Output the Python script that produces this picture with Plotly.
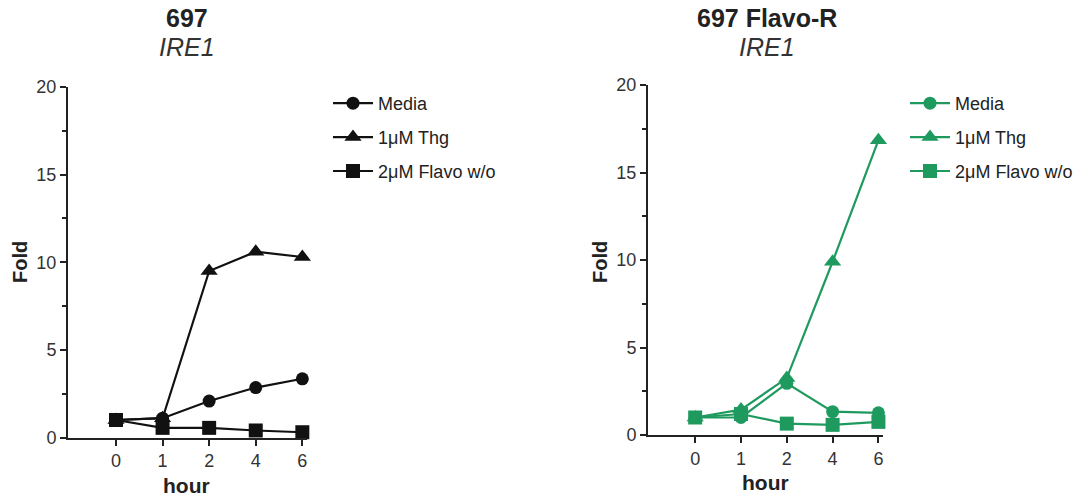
import plotly.graph_objects as go

hours = ["0", "1", "2", "4", "6"]
series_names = ["Media", "1\u03bcM Thg", "2\u03bcM Flavo w/o"]

# Left panel: 697
left_media = [1.0, 1.1, 2.08, 2.85, 3.35]
left_thg = [1.0, 1.1, 9.5, 10.6, 10.3]
left_flavo = [1.0, 0.55, 0.55, 0.4, 0.3]

# Right panel: 697 Flavo-R
right_media = [1.0, 1.0, 2.95, 1.33, 1.27]
right_thg = [1.0, 1.45, 3.25, 9.9, 16.85]
right_flavo = [1.0, 1.2, 0.65, 0.58, 0.75]

BLACK = "#111111"
GREEN = "#1f9a5f"
FONT = "Liberation Sans, Arial, sans-serif"
W, H = 1088, 499
OFF = 8  # page body margin offset

symbols = ["circle", "triangle-up", "square"]
sizes = [13, 15, 14]

fig = go.Figure()
xi = list(range(len(hours)))

def add_panel(vals, color, xa, ya, legend):
    for name, v, sym, sz in zip(series_names, vals, symbols, sizes):
        fig.add_trace(go.Scatter(
            x=xi, y=v, mode="lines+markers", name=name,
            line=dict(color=color, width=2.2),
            marker=dict(symbol=sym, size=sz, color=color),
            xaxis=xa, yaxis=ya, legend=legend, legendgroup=legend + name,
            cliponaxis=False,
        ))

add_panel([left_media, left_thg, left_flavo], BLACK, "x", "y", "legend")
add_panel([right_media, right_thg, right_flavo], GREEN, "x2", "y2", "legend2")

def px_x(p):
    return (p - OFF) / W

def px_y(p):
    return 1 - (p - OFF) / H

xaxis_common = dict(
    range=[-1.03, 4.1], tickmode="array", tickvals=xi, ticktext=hours,
    showline=True, linecolor="#222", linewidth=2, ticks="outside",
    ticklen=6, tickwidth=1.5, tickcolor="#222", showgrid=False, zeroline=False,
    tickfont=dict(family=FONT, size=18, color="#333"), fixedrange=True,
    automargin=False,
)
yaxis_common = dict(
    range=[0, 20], tickmode="array", tickvals=[0, 5, 10, 15, 20],
    showline=True, linecolor="#222", linewidth=2, ticks="outside",
    ticklen=6, tickwidth=1.5, tickcolor="#222", showgrid=False, zeroline=False,
    tickfont=dict(family=FONT, size=18, color="#333"),
    minor=dict(tickvals=[2.5, 7.5, 12.5, 17.5], ticks="outside", ticklen=4,
               tickwidth=1.5, tickcolor="#222", showgrid=False),
    fixedrange=True, automargin=False,
)

fig.update_layout(
    template="none",
    width=W, height=H, margin=dict(l=0, r=0, t=0, b=0, pad=0),
    plot_bgcolor="white", paper_bgcolor="white",
    xaxis=dict(domain=[px_x(68), px_x(307)], anchor="y", **xaxis_common),
    yaxis=dict(domain=[px_y(437.5), px_y(87)], anchor="x", **yaxis_common),
    xaxis2=dict(domain=[px_x(648), px_x(883)], anchor="y2", **xaxis_common),
    yaxis2=dict(domain=[px_y(435), px_y(85)], anchor="x2", **yaxis_common),
    legend=dict(x=px_x(328), y=px_y(85), xanchor="left", yanchor="top",
                font=dict(family=FONT, size=18, color="#222"),
                tracegroupgap=7.5, itemwidth=40, bgcolor="rgba(0,0,0,0)"),
    legend2=dict(x=px_x(905), y=px_y(85), xanchor="left", yanchor="top",
                 font=dict(family=FONT, size=18, color="#222"),
                 tracegroupgap=7.5, itemwidth=40, bgcolor="rgba(0,0,0,0)"),
    showlegend=True,
)

ann = []
def add_text(cx, cy, text, size, color="#222", angle=0):
    ann.append(dict(x=px_x(cx), y=px_y(cy), xref="paper", yref="paper",
                    xanchor="center", yanchor="middle", text=text,
                    textangle=angle, showarrow=False,
                    font=dict(family=FONT, size=size, color=color)))

add_text(187, 18, "<b>697</b>", 25)
add_text(187, 47, "<i>IRE1</i>", 25, "#333")
add_text(767, 18, "<b>697 Flavo-R</b>", 25)
add_text(767, 47, "<i>IRE1</i>", 25, "#333")
add_text(20, 262, "<b>Fold</b>", 20, angle=-90)
add_text(600, 262, "<b>Fold</b>", 20, angle=-90)
add_text(186, 485, "<b>hour</b>", 21)
add_text(765, 482, "<b>hour</b>", 21)
fig.update_layout(annotations=ann)

fig.write_html("out.html")
